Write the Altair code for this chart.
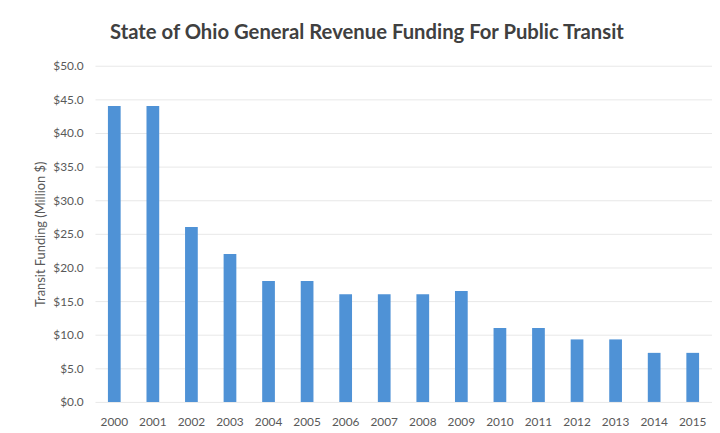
import altair as alt
import pandas as pd

years = ["2000", "2001", "2002", "2003", "2004", "2005", "2006", "2007",
         "2008", "2009", "2010", "2011", "2012", "2013", "2014", "2015"]
funding = [44.0, 44.0, 26.0, 22.0, 18.0, 18.0, 16.0, 16.0,
           16.0, 16.5, 11.0, 11.0, 9.3, 9.3, 7.3, 7.3]

df = pd.DataFrame({"year": years, "funding": funding})

FONT = "Lato"

chart = alt.Chart(df).mark_bar(color="#4f92d6").encode(
    x=alt.X("year:O", sort=years,
            scale=alt.Scale(paddingInner=0.67, paddingOuter=0.335),
            axis=alt.Axis(title=None, labelAngle=0, ticks=False, domain=False,
                          labelPadding=15, labelFontSize=12, labelColor="#595959",
                          labelFont=FONT)),
    y=alt.Y("funding:Q", scale=alt.Scale(domain=[0, 50], nice=False),
            axis=alt.Axis(title="Transit Funding (Million $)", format="$.1f",
                          values=[0, 5, 10, 15, 20, 25, 30, 35, 40, 45, 50],
                          ticks=False, domain=False, labelPadding=12,
                          labelFontSize=12, labelColor="#595959", labelFont=FONT,
                          titleFont=FONT, titleFontSize=13, titleFontWeight="normal",
                          titleColor="#595959", titlePadding=5,
                          gridColor="#e8e8e8", gridWidth=1)),
).properties(
    width=624,
    height=340,
    title=alt.TitleParams(
        "State of Ohio General Revenue Funding For Public Transit",
        font=FONT, fontSize=20.5, fontWeight="bold", color="#404040",
        anchor="middle", dx=-37, offset=17,
    ),
    autosize=alt.AutoSizeParams(type="none"),
    padding={"left": 88, "top": 56, "right": 0, "bottom": 29},
    background="white",
).configure_view(stroke=None)

chart.save("out.html", embed_options={"renderer": "svg", "actions": False})
